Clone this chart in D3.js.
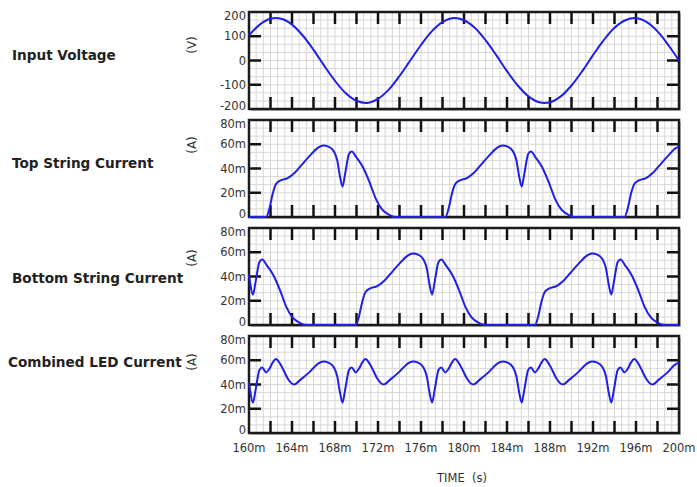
<!doctype html>
<html>
<head>
<meta charset="utf-8">
<script src="https://d3js.org/d3.v7.min.js"></script>
<style>
body { margin: 0; background: #fff; }
text { font-family: "DejaVu Sans", Verdana, sans-serif; }
</style>
</head>
<body>
<script>
// ---------- data ----------
var timeTicks = [160, 164, 168, 172, 176, 180, 184, 188, 192, 196, 200];
var timeTickLabels = ["160m", "164m", "168m", "172m", "176m", "180m", "184m", "188m", "192m", "196m", "200m"];

var voltTicks = [-200, -100, 0, 100, 200];
var voltTickLabels = ["-200", "-100", "0", "100", "200"];
var ampTicks = [0, 20, 40, 60, 80];           // mA
var ampTickLabels = ["0", "20m", "40m", "60m", "80m"];

// input voltage, ms / V
var voltT = [160,161,162,163,164,165,166,167,168,169,170,171,172,173,174,175,176,177,178,179,180,
             181,182,183,184,185,186,187,188,189,190,191,192,193,194,195,196,197,198,199,200];
var voltV = [103,148,172,172,148,103,44,-22,-84,-135,-166,-175,-158,-120,-64,0,64,120,158,175,166,
             135,84,22,-44,-103,-148,-172,-172,-148,-103,-44,22,84,135,166,175,158,120,64,0];

// top string current, ms / mA
var topT = [160,161.6,161.9,162.2,162.5,162.9,163.6,164.2,164.8,165.6,166.4,166.9,167.4,167.9,168.2,168.45,168.7,168.95,169.3,169.55,170.0,170.6,171.2,171.8,172.4,173.0,173.6,
            178.27,178.57,178.87,179.17,179.57,180.27,180.87,181.47,182.27,183.07,183.57,184.07,184.57,184.87,185.12,185.37,185.62,185.97,186.22,186.67,187.27,187.87,188.47,189.07,189.67,190.27,
            194.93,195.23,195.53,195.83,196.23,196.93,197.53,198.13,198.93,199.73,200];
var topI = [0,0,7,19,27,30,32,36,42,50,57,59,58,54,47,34,25,36,52,54,49,41,29,15,6,2,0,
            0,7,19,27,30,32,36,42,50,57,59,58,54,47,34,25,36,52,54,49,41,29,15,6,2,0,
            0,7,19,27,30,32,36,42,50,57,58];

// bottom string current, ms / mA
var botT = [160,160.12,160.37,160.62,160.97,161.22,161.67,162.27,162.87,163.47,164.07,164.67,165.27,
            169.93,170.23,170.53,170.83,171.23,171.93,172.53,173.13,173.93,174.73,175.23,175.73,176.23,176.53,176.78,177.03,177.28,177.63,177.88,178.33,178.93,179.53,180.13,180.73,181.33,181.93,
            186.6,186.9,187.2,187.5,187.9,188.6,189.2,189.8,190.6,191.4,191.9,192.4,192.9,193.2,193.45,193.7,193.95,194.3,194.55,195.0,195.6,196.2,196.8,197.4,198.0,198.6,200];
var botI = [42,34,25,36,52,54,49,41,29,15,6,2,0,
            0,7,19,27,30,32,36,42,50,57,59,58,54,47,34,25,36,52,54,49,41,29,15,6,2,0,
            0,7,19,27,30,32,36,42,50,57,59,58,54,47,34,25,36,52,54,49,41,29,15,6,2,0,0];

// combined LED current, ms / mA
var ledT = [160,160.12,160.37,160.62,160.97,161.22,
            161.6,161.9,162.2,162.5,162.9,163.2,163.6,164.2,164.8,165.6,166.4,166.9,167.4,167.9,168.2,168.45,168.7,168.95,169.3,169.55,
            169.93,170.23,170.53,170.83,171.23,171.53,171.93,172.53,173.13,173.93,174.73,175.23,175.73,176.23,176.53,176.78,177.03,177.28,177.63,177.88,
            178.27,178.57,178.87,179.17,179.57,179.87,180.27,180.87,181.47,182.27,183.07,183.57,184.07,184.57,184.87,185.12,185.37,185.62,185.97,186.22,
            186.6,186.9,187.2,187.5,187.9,188.2,188.6,189.2,189.8,190.6,191.4,191.9,192.4,192.9,193.2,193.45,193.7,193.95,194.3,194.55,
            194.93,195.23,195.53,195.83,196.23,196.53,196.93,197.53,198.13,198.93,199.73,200];
var ledI = [42,34,25,36,52,54,
            50,53,58,61,57,52,45,40,44,50,57,59,58,54,47,34,25,36,52,54,
            50,53,58,61,57,52,45,40,44,50,57,59,58,54,47,34,25,36,52,54,
            50,53,58,61,57,52,45,40,44,50,57,59,58,54,47,34,25,36,52,54,
            50,53,58,61,57,52,45,40,44,50,57,59,58,54,47,34,25,36,52,54,
            50,53,58,61,57,52,45,40,44,50,57,58];

var panelTitles = ["Input Voltage", "Top String Current", "Bottom String Current", "Combined LED Current"];
var panelUnits = ["(V)", "(A)", "(A)", "(A)"];

// ---------- layout ----------
var W = 697, H = 487;
var left = 249, right = 679, panelH = 97;
var panelTops = [12, 120, 228, 336];
var titlePos = [[12, 55], [12, 163], [12, 278], [8, 362]];
var unitY = [45, 145, 258, 362];
var lineColor = "#1f1fe6";

var svg = d3.select("body").append("svg").attr("width", W).attr("height", H);

var x = d3.scaleLinear().domain([160, 200]).range([left, right]);

var panels = [
  { t: voltT, v: voltV, domain: [-200, 200], ticks: voltTicks, labels: voltTickLabels, curve: d3.curveCatmullRom },
  { t: topT, v: topI, domain: [0, 80], ticks: ampTicks, labels: ampTickLabels, curve: d3.curveMonotoneX },
  { t: botT, v: botI, domain: [0, 80], ticks: ampTicks, labels: ampTickLabels, curve: d3.curveMonotoneX },
  { t: ledT, v: ledI, domain: [0, 80], ticks: ampTicks, labels: ampTickLabels, curve: d3.curveMonotoneX }
];

panels.forEach(function(p, k) {
  var top = panelTops[k];
  var y = d3.scaleLinear().domain(p.domain).range([top + panelH, top]);
  var g = svg.append("g");

  // shadow + background
  g.append("rect").attr("x", left + 2).attr("y", top + 2).attr("width", right - left).attr("height", panelH)
    .attr("fill", "#c4c4c4");
  g.append("rect").attr("x", left).attr("y", top).attr("width", right - left).attr("height", panelH)
    .attr("fill", "#fff");

  // fine grid: 3 cells per major step
  var xs = d3.range(0, 61).map(function(i) { return 160 + i * 2 / 3; });
  g.selectAll(".vg").data(xs).enter().append("line")
    .attr("x1", function(d) { return x(d); }).attr("x2", function(d) { return x(d); })
    .attr("y1", top).attr("y2", top + panelH)
    .attr("stroke", "#d6d6d6").attr("stroke-width", 1);
  var step = (p.domain[1] - p.domain[0]) / 12;
  var ys = d3.range(0, 13).map(function(i) { return p.domain[0] + i * step; });
  g.selectAll(".hg").data(ys).enter().append("line")
    .attr("x1", left).attr("x2", right)
    .attr("y1", function(d) { return y(d); }).attr("y2", function(d) { return y(d); })
    .attr("stroke", "#d6d6d6").attr("stroke-width", 1);

  // inward major ticks
  var tl = 12;
  var xMaj = d3.range(162, 200, 2);
  xMaj.forEach(function(d) {
    g.append("line").attr("x1", x(d)).attr("x2", x(d)).attr("y1", top).attr("y2", top + tl)
      .attr("stroke", "#111").attr("stroke-width", 2.5);
    g.append("line").attr("x1", x(d)).attr("x2", x(d)).attr("y1", top + panelH - tl).attr("y2", top + panelH)
      .attr("stroke", "#111").attr("stroke-width", 2.5);
  });
  p.ticks.slice(1, -1).forEach(function(d) {
    g.append("line").attr("x1", left).attr("x2", left + tl).attr("y1", y(d)).attr("y2", y(d))
      .attr("stroke", "#111").attr("stroke-width", 2.5);
    g.append("line").attr("x1", right - tl).attr("x2", right).attr("y1", y(d)).attr("y2", y(d))
      .attr("stroke", "#111").attr("stroke-width", 2.5);
  });

  // frame
  g.append("rect").attr("x", left).attr("y", top).attr("width", right - left).attr("height", panelH)
    .attr("fill", "none").attr("stroke", "#1a1a1a").attr("stroke-width", 2.5);

  // trace (on top of frame so the zero level shows)
  var pts = p.t.map(function(t, i) { return [t, p.v[i]]; });
  var line = d3.line().x(function(d) { return x(d[0]); }).y(function(d) { return y(d[1]); }).curve(p.curve);
  g.append("path").attr("d", line(pts)).attr("fill", "none")
    .attr("stroke", lineColor).attr("stroke-width", 2).attr("stroke-linejoin", "round");

  // y tick labels, end labels nudged inward
  p.ticks.forEach(function(d, i) {
    var off = i === 0 ? -3 : (i === p.ticks.length - 1 ? 4 : 0);
    g.append("text").attr("x", left - 3).attr("y", y(d) + off).attr("dy", "0.35em")
      .attr("text-anchor", "end").attr("font-size", 11.5).attr("fill", "#333")
      .text(p.labels[i]);
  });

  // unit
  g.append("text").attr("transform", "translate(196," + unitY[k] + ") rotate(-90)")
    .attr("text-anchor", "middle").attr("font-size", 12).attr("fill", "#333")
    .text(panelUnits[k]);

  // title
  svg.append("text").attr("x", titlePos[k][0]).attr("y", titlePos[k][1]).attr("dy", "0.35em")
    .attr("font-size", 13.6).attr("font-weight", "bold").attr("fill", "#222")
    .text(panelTitles[k]);
});

// x labels
var xb = panelTops[3] + panelH;
timeTicks.forEach(function(d, i) {
  svg.append("text").attr("x", x(d)).attr("y", xb + 15).attr("dy", "0.35em")
    .attr("text-anchor", "middle").attr("font-size", 11.5).attr("fill", "#333")
    .text(timeTickLabels[i]);
});
svg.append("text").attr("x", 462).attr("y", 478).attr("dy", "0.35em")
  .attr("text-anchor", "middle").attr("font-size", 11.5).attr("fill", "#333")
  .attr("xml:space", "preserve").text("TIME  (s)");
</script>
</body>
</html>
